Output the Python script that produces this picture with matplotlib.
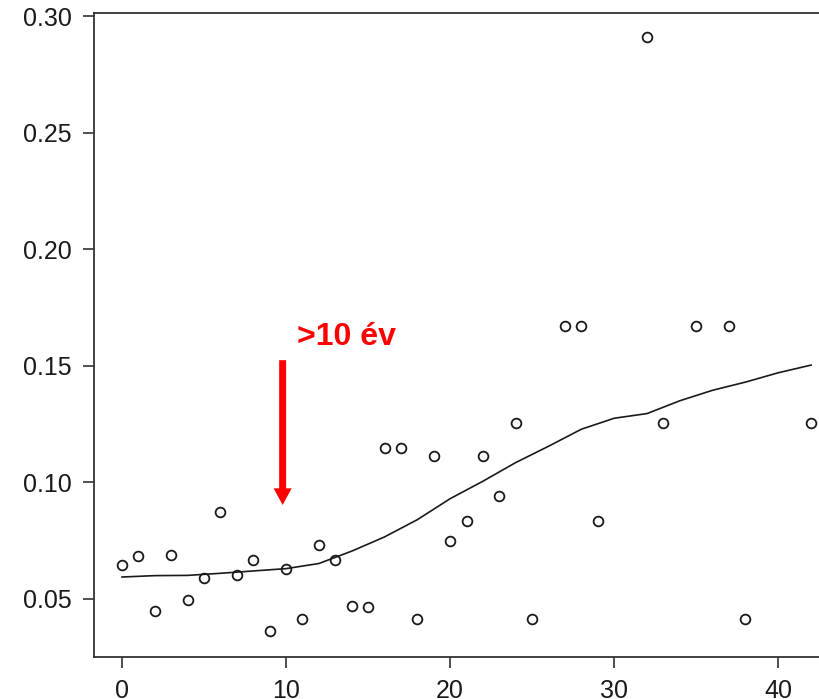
import numpy as np
from matplotlib import pyplot as plt

# scatter data (years vs. rate)
years = [0, 1, 2, 3, 4, 5, 6, 7, 8, 9, 10, 11, 12, 13, 14, 15, 16, 17, 18, 19,
         20, 21, 22, 23, 24, 25, 27, 28, 29, 32, 33, 35, 37, 38, 42]
rates = [0.0646, 0.0684, 0.0449, 0.0689, 0.0496, 0.0590, 0.0873, 0.0603,
         0.0667, 0.0363, 0.0629, 0.0414, 0.0731, 0.0667, 0.0470, 0.0466,
         0.1147, 0.1147, 0.0414, 0.1113, 0.0749, 0.0834, 0.1113, 0.0941,
         0.1254, 0.0414, 0.1670, 0.1670, 0.0834, 0.2910, 0.1254, 0.1670,
         0.1670, 0.0414, 0.1254]

# smoothed trend line
smooth_x = [0, 2, 4, 6, 8, 10, 12, 14, 16, 18, 20, 22, 24, 26, 28, 30, 32,
            34, 36, 38, 40, 42]
smooth_y = [0.0594, 0.0600, 0.0601, 0.0610, 0.0620, 0.0630, 0.0652, 0.0705,
            0.0766, 0.0840, 0.0930, 0.1005, 0.1085, 0.1155, 0.1228, 0.1275,
            0.1295, 0.1350, 0.1395, 0.1430, 0.1470, 0.1503]

x_ticks = [0, 10, 20, 30, 40]
y_ticks = [0.05, 0.10, 0.15, 0.20, 0.25, 0.30]

arrow_x = 9.79
arrow_top, arrow_tip = 0.1524, 0.0903
note = ">10 év"

plt.rcParams['font.family'] = ['Liberation Sans', 'DejaVu Sans']

fig = plt.figure(figsize=(8.2, 6.99), dpi=100)
ax = fig.add_axes([94.3 / 820, 42 / 699, 766 / 820, 644 / 699])

ax.plot(smooth_x, smooth_y, "-", lw=1.2, color="#1a1a1a")
ax.plot(years, rates, "o", ms=7, mfc="none", mec="#1a1a1a", mew=1.3)

# plain polygon arrow (width / head sizes in points)
ax.annotate("", xy=(arrow_x, arrow_tip), xytext=(arrow_x, arrow_top),
            arrowprops=dict(width=5, headwidth=13, headlength=12,
                            color="red", lw=0, shrink=0))
ax.text(10.67, 0.1589, note, color="red", fontsize=23, fontweight="bold",
        va="baseline", ha="left")

ax.set_xlim(-1.69, 45)
ax.set_ylim(0.0251, 0.3013)
ax.set_xticks(x_ticks)
ax.set_yticks(y_ticks)
ax.set_yticklabels([f"{v:.2f}" for v in y_ticks])

for s in ["left", "bottom", "top"]:
    ax.spines[s].set_linewidth(1.3)
    ax.spines[s].set_color("#333333")
ax.spines["right"].set_visible(False)

ax.tick_params(axis="both", direction="out", length=8, width=1.2,
               color="#333333", labelsize=18, labelcolor="#1a1a1a", pad=8)

fig.savefig("out.png", dpi=100)
